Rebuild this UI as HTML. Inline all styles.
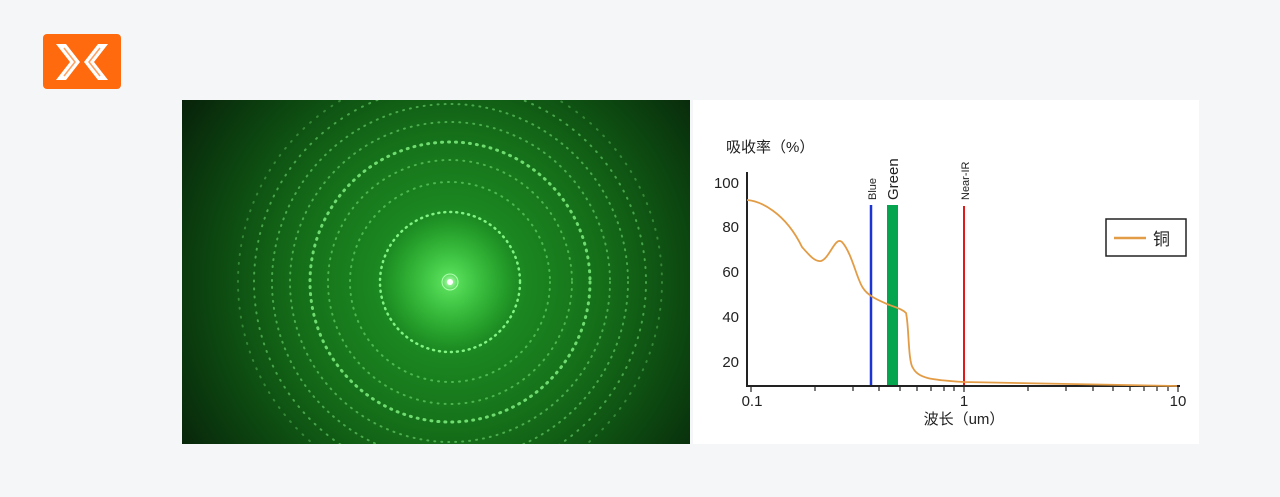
<!DOCTYPE html><html><head><meta charset="utf-8"><style>
body{margin:0;width:1280px;height:497px;background:#f5f6f8;position:relative;overflow:hidden;font-family:"Liberation Sans","Noto Sans CJK SC",sans-serif}
</style></head><body>
<svg width="1280" height="497" style="position:absolute;left:0;top:0">
<defs>
<clipPath id="cp"><rect x="182" y="100" width="508" height="344"/></clipPath>
<radialGradient id="bg" cx="450" cy="282" r="330" gradientUnits="userSpaceOnUse">
<stop offset="0" stop-color="#28b030"/><stop offset="0.2" stop-color="#1c8a22"/><stop offset="0.45" stop-color="#157019"/><stop offset="0.7" stop-color="#0d4a11"/><stop offset="1" stop-color="#071f09"/></radialGradient>
<radialGradient id="core" cx="450" cy="282" r="70" gradientUnits="userSpaceOnUse">
<stop offset="0" stop-color="#c8ffc8"/><stop offset="0.12" stop-color="#6af06a" stop-opacity=".7"/><stop offset="1" stop-color="#3ad03a" stop-opacity="0"/></radialGradient>
</defs>
<rect x="43" y="34" width="78" height="55" rx="4" fill="#ff6a0e"/>
<path d="M56 44h10l14 18-14 18h-10l14-18z M108 44h-10l-14 18 14 18h10l-14-18z" fill="#fff"/>
<path d="M64 48l11 14-11 14 M100 48l-11 14 11 14" stroke="#ffa060" stroke-width="1.5" fill="none"/>
<rect x="182" y="100" width="508" height="344" fill="url(#bg)"/>
<g fill="none" stroke="#8dff8d" stroke-linecap="round" clip-path="url(#cp)">
<circle cx="450" cy="282" r="70" stroke-width="2.5" stroke-dasharray="1 5" opacity=".9"/>
<circle cx="450" cy="282" r="100" stroke-width="2" stroke-dasharray="1 6" opacity=".45"/>
<circle cx="450" cy="282" r="122" stroke-width="2" stroke-dasharray="1 6" opacity=".45"/>
<circle cx="450" cy="282" r="140" stroke-width="3" stroke-dasharray="1 6" opacity=".75"/>
<circle cx="450" cy="282" r="160" stroke-width="2" stroke-dasharray="1 6" opacity=".45"/>
<circle cx="450" cy="282" r="178" stroke-width="2" stroke-dasharray="1 6" opacity=".45"/>
<circle cx="450" cy="282" r="196" stroke-width="2" stroke-dasharray="1 7" opacity=".45"/>
<circle cx="450" cy="282" r="212" stroke-width="2" stroke-dasharray="1 8" opacity=".3"/>
</g>
<circle cx="450" cy="282" r="70" fill="url(#core)"/>
<circle cx="450" cy="282" r="8" fill="none" stroke="#b0ffb0" stroke-width="1"/>
<circle cx="450" cy="282" r="3" fill="#fff"/>
<rect x="693" y="100" width="506" height="344" fill="#fff"/>
<g font-size="15" fill="#222">
<text x="726" y="152">吸收率（%）</text>
<text x="739" y="188" text-anchor="end">100</text>
<text x="739" y="232" text-anchor="end">80</text>
<text x="739" y="277" text-anchor="end">60</text>
<text x="739" y="322" text-anchor="end">40</text>
<text x="739" y="367" text-anchor="end">20</text>
<text x="752" y="406" text-anchor="middle">0.1</text>
<text x="964" y="406" text-anchor="middle">1</text>
<text x="1178" y="406" text-anchor="middle">10</text>
<text x="964" y="424" text-anchor="middle">波长（um）</text>
</g>
<g stroke="#222" stroke-width="2" fill="none">
<path d="M747 172V386H1180"/>
</g>
<g stroke="#222" stroke-width="1.2">
<path d="M751 386v6M815 386v5M853 386v5M879 386v5M900 386v5M917 386v5M931 386v5M944 386v5M954 386v5M964 386v6M1028 386v5M1066 386v5M1093 386v5M1113 386v5M1130 386v5M1144 386v5M1157 386v5M1168 386v5M1178 386v6"/>
</g>
<line x1="871" y1="205" x2="871" y2="385" stroke="#1a34d6" stroke-width="2.5"/>
<rect x="887" y="205" width="11" height="180" fill="#05a550"/>
<line x1="964" y1="206" x2="964" y2="385" stroke="#e01a1a" stroke-width="2"/>
<text transform="translate(876 200) rotate(-90)" font-size="11" fill="#222">Blue</text>
<text transform="translate(898 200) rotate(-90)" font-size="15" fill="#222">Green</text>
<text transform="translate(969 200) rotate(-90)" font-size="11" fill="#222">Near-IR</text>
<path d="M747 200 C760 201 785 212 802 247 C810 256 815 262 821 261 C830 258 835 236 842 242 C852 253 857 280 863 288 C868 296 878 300 887 304 C897 308 902 309 906 313 C909 325 908 362 913 368 C918 378 930 380 964 382 C1030 383 1100 385 1177 386" fill="none" stroke="#e39c46" stroke-width="1.8"/>
<rect x="1106" y="219" width="80" height="37" fill="#fff" stroke="#222" stroke-width="1.5"/>
<line x1="1114" y1="238" x2="1146" y2="238" stroke="#e39c46" stroke-width="2.5"/>
<text x="1153" y="245" font-size="17" fill="#222">铜</text>
</svg>
</body></html>
